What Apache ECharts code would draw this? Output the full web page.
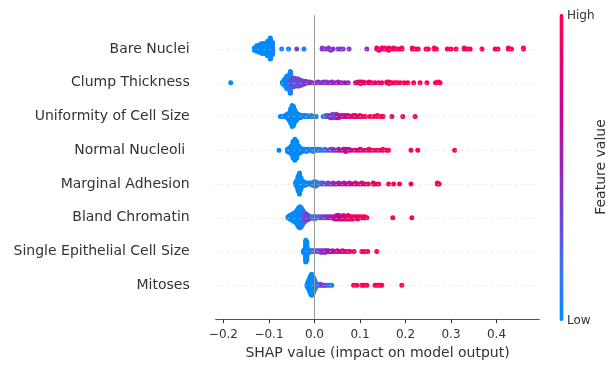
<!DOCTYPE html>
<html>
<head>
<meta charset="utf-8">
<script src="https://cdn.jsdelivr.net/npm/echarts@6/dist/echarts.min.js"></script>
<style>
  html, body { margin: 0; padding: 0; background: #fff; }
  #chart { width: 607px; height: 365px; }
</style>
</head>
<body>
<div id="chart"></div>
<script>
// features, top to bottom
const features = ['Bare Nuclei', 'Clump Thickness', 'Uniformity of Cell Size', 'Normal Nucleoli ',
  'Marginal Adhesion', 'Bland Chromatin', 'Single Epithelial Cell Size', 'Mitoses']

// point groups: [shap value, feature value (0 = low .. 1 = high), count]
const bareNuclei = [
  [-0.132, 0, 3], [-0.127, 0, 6], [-0.121, 0, 8], [-0.115, 0, 10], [-0.109, 0, 10], [-0.103, 0, 14], [-0.097, 0, 20], [-0.092, 0.05, 12],
  [-0.072, 0.05, 1], [-0.057, 0.05, 1], [-0.039, 0.35, 1], [-0.023, 0.05, 1],
  [0.017, 0.4, 2], [0.024, 0.4, 1], [0.031, 0.4, 2], [0.036, 0.45, 1], [0.041, 0.4, 1], [0.052, 0.45, 1], [0.058, 0.35, 1], [0.063, 0.4, 1], [0.076, 0.4, 1],
  [0.115, 0.45, 1],
  [0.137, 0.9, 2], [0.142, 0.95, 1], [0.148, 0.85, 2], [0.153, 0.9, 2], [0.158, 0.95, 1], [0.163, 0.9, 3], [0.168, 0.95, 1], [0.174, 0.9, 2], [0.180, 0.95, 1], [0.186, 1, 1], [0.192, 0.95, 2],
  [0.215, 1, 2], [0.222, 1, 1], [0.228, 1, 1], [0.245, 1, 1], [0.250, 1, 1], [0.263, 1, 2], [0.268, 1, 1],
  [0.292, 1, 1], [0.300, 1, 1], [0.311, 1, 1], [0.329, 1, 2], [0.336, 1, 1], [0.342, 1, 1], [0.368, 1, 1], [0.397, 1, 1], [0.403, 1, 1], [0.426, 1, 2], [0.433, 1, 1], [0.459, 1, 2]
]
const clumpThickness = [
  [-0.184, 0, 1],
  [-0.070, 0, 3], [-0.066, 0, 8], [-0.061, 0, 16], [-0.057, 0.05, 18], [-0.053, 0.05, 10], [-0.052, 0.35, 6], [-0.047, 0.05, 6], [-0.046, 0.4, 6],
  [-0.043, 0.3, 10], [-0.038, 0.05, 4], [-0.037, 0.4, 6], [-0.034, 0.3, 9], [-0.029, 0.4, 7], [-0.025, 0.35, 5], [-0.020, 0.4, 4], [-0.015, 0.4, 2],
  [-0.010, 0.4, 2], [-0.005, 0.45, 1], [0.002, 0.35, 1], [0.008, 0.45, 2], [0.014, 0.4, 1], [0.020, 0.45, 2], [0.026, 0.4, 2], [0.032, 0.45, 1],
  [0.038, 0.5, 2], [0.045, 0.45, 1], [0.052, 0.5, 2], [0.060, 0.5, 1], [0.067, 0.55, 1], [0.074, 0.5, 1],
  [0.090, 0.8, 1], [0.096, 0.85, 2], [0.101, 0.8, 3], [0.106, 0.9, 2], [0.112, 0.85, 1], [0.120, 0.9, 2], [0.126, 0.85, 1], [0.133, 0.9, 1], [0.141, 0.9, 1], [0.148, 0.95, 1],
  [0.159, 1, 2], [0.164, 1, 3], [0.170, 0.95, 1], [0.176, 1, 1], [0.181, 1, 1],
  [0.188, 1, 1], [0.197, 1, 1], [0.205, 1, 1], [0.218, 1, 1], [0.232, 1, 1], [0.247, 1, 1], [0.266, 1, 1], [0.272, 1, 2], [0.276, 1, 1]
]
const uniformityCellSize = [
  [-0.075, 0, 1], [-0.070, 0, 1],
  [-0.064, 0, 2], [-0.060, 0, 4], [-0.056, 0, 7], [-0.052, 0, 14], [-0.049, 0, 20], [-0.046, 0, 18], [-0.043, 0, 12], [-0.039, 0, 7], [-0.035, 0, 4], [-0.031, 0.05, 3],
  [-0.027, 0.05, 2], [-0.022, 0.05, 2], [-0.017, 0.05, 2], [-0.012, 0.05, 1], [-0.007, 0.05, 2], [-0.002, 0.05, 1], [0.004, 0.05, 1],
  [0.019, 0.1, 1], [0.025, 0.15, 2], [0.030, 0.35, 2], [0.035, 0.4, 3], [0.040, 0.45, 4], [0.044, 0.15, 2], [0.048, 0.5, 4], [0.053, 0.55, 3], [0.058, 0.6, 2], [0.063, 0.7, 2], [0.068, 0.65, 2],
  [0.074, 0.8, 2], [0.079, 0.75, 1], [0.085, 0.85, 2], [0.090, 0.9, 2], [0.095, 0.9, 1], [0.100, 0.95, 2], [0.106, 0.9, 1], [0.112, 1, 1],
  [0.122, 1, 1], [0.130, 1, 1], [0.138, 1, 2], [0.146, 1, 1], [0.151, 1, 1], [0.170, 1, 1], [0.194, 1, 1], [0.221, 1, 1]
]
const normalNucleoli = [
  [-0.078, 0, 1],
  [-0.059, 0, 3], [-0.055, 0, 5], [-0.051, 0, 8], [-0.047, 0, 16], [-0.043, 0, 20], [-0.039, 0, 16], [-0.035, 0, 8], [-0.031, 0, 5],
  [-0.027, 0.05, 3], [-0.022, 0.05, 2], [-0.018, 0.05, 3], [-0.013, 0.05, 2], [-0.008, 0.05, 2], [-0.003, 0.05, 3], [0.002, 0.05, 2], [0.007, 0.1, 2], [0.012, 0.1, 2],
  [0.018, 0.15, 1], [0.023, 0.2, 2], [0.029, 0.25, 1], [0.035, 0.3, 2],
  [0.041, 0.4, 2], [0.047, 0.45, 1], [0.053, 0.55, 2], [0.059, 0.6, 1], [0.064, 0.65, 2], [0.069, 0.7, 3], [0.075, 0.65, 2], [0.080, 0.75, 1],
  [0.088, 0.8, 1], [0.094, 0.85, 1], [0.100, 0.85, 2], [0.107, 0.9, 1], [0.114, 0.9, 1], [0.120, 0.95, 2], [0.127, 0.9, 1], [0.135, 0.95, 1], [0.142, 1, 1], [0.150, 1, 2], [0.158, 1, 1], [0.163, 1, 1],
  [0.212, 1, 1], [0.227, 1, 1], [0.308, 1, 1]
]
const marginalAdhesion = [
  [-0.042, 0, 2], [-0.039, 0, 6], [-0.036, 0, 14], [-0.033, 0, 20], [-0.030, 0, 12], [-0.027, 0, 6], [-0.024, 0, 4], [-0.020, 0, 3],
  [-0.016, 0.05, 2], [-0.012, 0.05, 2], [-0.008, 0.05, 2], [-0.004, 0.05, 3], [-0.001, 0.05, 4], [0.002, 0.1, 5], [0.005, 0.1, 3],
  [0.009, 0.15, 2], [0.014, 0.2, 2], [0.019, 0.25, 2], [0.025, 0.3, 1], [0.030, 0.35, 2], [0.036, 0.4, 1], [0.041, 0.45, 2], [0.047, 0.5, 1], [0.053, 0.55, 2],
  [0.059, 0.6, 1], [0.065, 0.65, 2], [0.071, 0.6, 1], [0.077, 0.7, 2], [0.083, 0.7, 1], [0.090, 0.75, 2], [0.097, 0.8, 1], [0.104, 0.85, 2], [0.111, 0.8, 1], [0.118, 0.9, 1],
  [0.129, 0.95, 2], [0.134, 1, 1], [0.141, 1, 1], [0.163, 1, 1], [0.174, 1, 1], [0.187, 1, 1], [0.212, 1, 1], [0.270, 1, 2], [0.274, 1, 1]
]
const blandChromatin = [
  [-0.058, 0, 2], [-0.054, 0, 4], [-0.050, 0, 6], [-0.046, 0, 8], [-0.042, 0, 10], [-0.038, 0, 14], [-0.035, 0, 18], [-0.032, 0, 20],
  [-0.029, 0.05, 18], [-0.026, 0.1, 14], [-0.023, 0.2, 10], [-0.020, 0.3, 8], [-0.017, 0.35, 6], [-0.014, 0.4, 4], [-0.011, 0.45, 3],
  [-0.008, 0.1, 2], [-0.004, 0.15, 2], [0.000, 0.2, 3], [0.004, 0.1, 2], [0.009, 0.2, 2], [0.014, 0.3, 2], [0.019, 0.35, 2], [0.024, 0.4, 2], [0.029, 0.45, 2], [0.034, 0.5, 2], [0.039, 0.55, 2],
  [0.044, 0.6, 3], [0.049, 0.65, 4], [0.054, 0.7, 4], [0.059, 0.75, 3], [0.064, 0.8, 4], [0.069, 0.85, 3], [0.074, 0.85, 4], [0.079, 0.9, 3], [0.084, 0.9, 3],
  [0.090, 0.95, 2], [0.095, 0.95, 3], [0.100, 1, 2], [0.106, 1, 2], [0.111, 1, 2], [0.115, 1, 1],
  [0.172, 1, 1], [0.214, 1, 1]
]
const singleEpithelial = [
  [-0.024, 0, 3], [-0.021, 0, 6], [-0.019, 0, 26], [-0.017, 0, 22], [-0.015, 0, 6], [-0.013, 0.05, 3],
  [-0.010, 0.1, 2], [-0.007, 0.15, 2], [-0.004, 0.1, 2], [-0.001, 0.2, 2], [0.003, 0.2, 2], [0.007, 0.3, 2], [0.011, 0.35, 2], [0.015, 0.4, 3], [0.019, 0.4, 2],
  [0.023, 0.45, 3], [0.027, 0.5, 2], [0.031, 0.55, 2],
  [0.035, 0.6, 1], [0.040, 0.6, 2], [0.045, 0.65, 1], [0.050, 0.7, 2], [0.056, 0.65, 1], [0.062, 0.75, 2], [0.068, 0.8, 1], [0.074, 0.85, 1], [0.078, 0.9, 1],
  [0.087, 1, 1], [0.104, 1, 1], [0.110, 1, 1], [0.117, 1, 1], [0.137, 1, 1]
]
const mitoses = [
  [-0.016, 0, 3], [-0.014, 0, 6], [-0.012, 0, 10], [-0.010, 0, 14], [-0.008, 0, 18], [-0.006, 0, 20], [-0.004, 0, 18], [-0.002, 0, 14], [0.000, 0, 10], [0.002, 0, 6], [0.004, 0.05, 3],
  [0.007, 0.1, 2], [0.010, 0.2, 1], [0.014, 0.35, 2], [0.018, 0.4, 1], [0.021, 0.3, 1], [0.025, 0.45, 1], [0.029, 0.2, 1], [0.033, 0.1, 1], [0.038, 0.05, 1],
  [0.086, 1, 1], [0.093, 1, 1], [0.104, 1, 1], [0.109, 1, 1], [0.115, 1, 1], [0.133, 1, 1], [0.139, 1, 1], [0.144, 1, 1], [0.148, 1, 1], [0.192, 1, 1]
]
const featureData = [bareNuclei, clumpThickness, uniformityCellSize, normalNucleoli,
  marginalAdhesion, blandChromatin, singleEpithelial, mitoses]

const xTicks = [-0.2, -0.1, 0.0, 0.1, 0.2, 0.3, 0.4]
const colorStops = ['#008bfb', '#3a72f0', '#7048d6', '#9a22b8', '#c2079a', '#e60078', '#ff0052']

// beeswarm: pile points of the same bin up and down (like shap)
function swarm(groups, row) {
  const pts = []
  groups.forEach(g => {
    for (let k = 0; k < g[2]; k++) pts.push([g[0], g[1]])
  })
  const lo = Math.min(...pts.map(p => p[0]))
  const hi = Math.max(...pts.map(p => p[0]))
  const quant = pts.map(p => Math.round(100 * (p[0] - lo) / (hi - lo)))
  const order = pts.map((p, i) => i).sort((a, b) => quant[a] - quant[b] || pts[a][0] - pts[b][0])
  const ys = new Array(pts.length).fill(0)
  let layer = 0
  let last = -1
  order.forEach(i => {
    if (quant[i] !== last) layer = 0
    ys[i] = Math.ceil(layer / 2) * ((layer % 2) * 2 - 1)
    layer++
    last = quant[i]
  })
  const m = Math.max(...ys.map(y => y + 1))
  return pts.map((p, i) => [p[0], row + ys[i] * 0.9 * 0.4 / m, p[1]])
}

let points = []
featureData.forEach((d, i) => {
  points = points.concat(swarm(d, features.length - 1 - i))
})

const fmt = v => (v < 0 ? '\u2212' : '') + Math.abs(v).toFixed(1)

const chart = echarts.init(document.getElementById('chart'))
chart.setOption({
  animation: false,
  textStyle: { fontFamily: 'DejaVu Sans' },
  grid: { left: 215.7, right: 67.7, top: 15.3, bottom: 44.8 },
  xAxis: {
    type: 'value',
    min: -0.217,
    max: 0.494,
    name: 'SHAP value (impact on model output)',
    nameLocation: 'middle',
    nameGap: 25,
    nameTextStyle: { fontSize: 14, color: '#333' },
    axisLine: { show: true, onZero: false, lineStyle: { color: '#555', width: 1 } },
    axisTick: { show: true, length: 4, customValues: xTicks, lineStyle: { color: '#333' } },
    axisLabel: { fontSize: 12, color: '#333', margin: 10, customValues: xTicks, formatter: fmt },
    splitLine: { show: false }
  },
  yAxis: {
    type: 'value',
    min: -1,
    max: 8,
    interval: 1,
    axisLine: { show: false },
    axisTick: { show: false },
    splitLine: { show: false },
    axisLabel: {
      fontSize: 14,
      color: '#333',
      margin: 26,
      formatter: v => (v >= 0 && v < features.length) ? features[features.length - 1 - v] : ''
    }
  },
  visualMap: {
    type: 'continuous',
    min: 0,
    max: 1,
    dimension: 2,
    seriesIndex: 1,
    calculable: false,
    orient: 'vertical',
    left: 559.5,
    top: 14,
    itemWidth: 4,
    itemHeight: 307,
    padding: 0,
    inRange: { color: colorStops }
  },
  graphic: [
    { type: 'text', left: 567, top: 10, style: { text: 'High', fontSize: 12, fill: '#333', fontFamily: 'DejaVu Sans' } },
    { type: 'text', left: 567, top: 315, style: { text: 'Low', fontSize: 12, fill: '#333', fontFamily: 'DejaVu Sans' } },
    {
      type: 'text', x: 601, y: 167, rotation: Math.PI / 2,
      style: { text: 'Feature value', fontSize: 14, fill: '#333', fontFamily: 'DejaVu Sans', align: 'center', verticalAlign: 'middle' }
    }
  ],
  series: [
    {
      // guide lines
      type: 'scatter',
      data: [],
      z: 1,
      markLine: {
        silent: true,
        symbol: ['none', 'none'],
        label: { show: false },
        animation: false,
        data: features.map((f, i) => ({ yAxis: i, lineStyle: { color: '#cccccc', width: 1, type: [1, 5] } }))
          .concat([{ xAxis: 0, lineStyle: { color: '#999999', width: 1, type: 'solid' } }])
      }
    },
    {
      type: 'scatter',
      z: 2,
      symbolSize: 5,
      itemStyle: { opacity: 1 },
      data: points
    }
  ]
})
</script>
</body>
</html>
